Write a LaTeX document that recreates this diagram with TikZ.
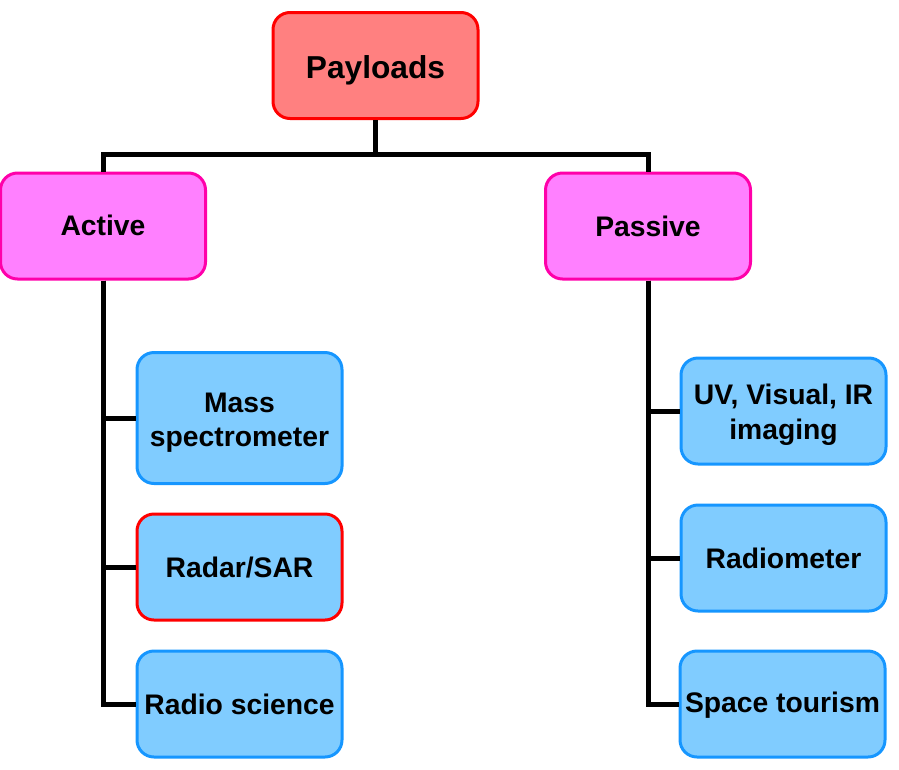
\documentclass[tikz,border=0pt]{standalone}
\usepackage{fontspec}
\setmainfont{Liberation Sans}
\newcommand\lowtxt[2]{\raisebox{0pt}[\dimexpr\height+#1\relax][\depth]{\begin{tabular}{@{}c@{}}#2\end{tabular}}}
\begin{document}
\begin{tikzpicture}[x=1pt,y=-1pt,
  box/.style={rounded corners=17pt, line width=3pt, minimum width=205pt, minimum height=106pt, inner sep=1pt, align=center, font=\fontsize{28.3}{34.5}\selectfont\bfseries},
  topbox/.style={box, draw={rgb,255:red,255;green,0;blue,0}, fill={rgb,255:red,255;green,128;blue,128}, font=\fontsize{31.7}{36}\selectfont\bfseries},
  midbox/.style={box, draw={rgb,255:red,255;green,0;blue,170}, fill={rgb,255:red,255;green,128;blue,255}},
  leafbox/.style={box, draw={rgb,255:red,22;green,150;blue,255}, fill={rgb,255:red,128;green,204;blue,255}},
  link/.style={line width=5pt, black}
]
\useasboundingbox (0,0) rectangle (899,769);
\coordinate (bus) at (375.5,154);
\node[topbox] (P) at (375.5,65.5) {\lowtxt{11pt}{Payloads}};
\node[midbox] (A) at (103,226) {\lowtxt{6pt}{Active}};
\node[midbox] (B) at (648,226) {\lowtxt{7pt}{Passive}};
\node[leafbox, minimum height=131pt] (m1) at (239.5,418) {\lowtxt{9pt}{Mass\\spectrometer}};
\node[leafbox, draw={rgb,255:red,255;green,0;blue,0}] (m2) at (239.5,567) {\lowtxt{7pt}{Radar/SAR}};
\node[leafbox] (m3) at (239.5,704) {\lowtxt{8pt}{Radio science}};
\node[leafbox] (p1) at (783.5,411) {\lowtxt{8pt}{UV, Visual, IR\\imaging}};
\node[leafbox] (p2) at (783.5,558) {\lowtxt{7pt}{Radiometer}};
\node[leafbox] (p3) at (782.5,704) {\lowtxt{4pt}{Space tourism}};
\draw[link] (P.south) -- (bus);
\draw[link] (A.north) |- (bus) -| (B.north);
\draw[link] (A.south) |- (m1.west);
\draw[link] (A.south) |- (m2.west);
\draw[link] (A.south) |- (m3.west);
\draw[link] (B.south) |- (p1.west);
\draw[link] (B.south) |- (p2.west);
\draw[link] (B.south) |- (p3.west);
\end{tikzpicture}
\end{document}
